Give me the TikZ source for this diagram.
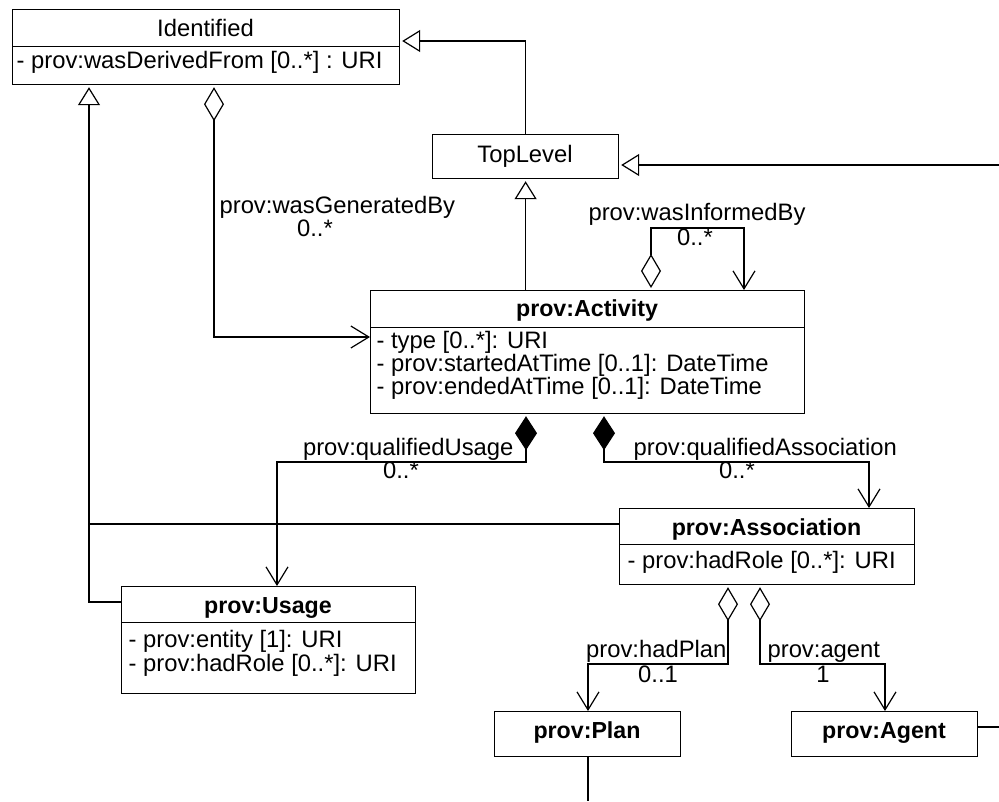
\documentclass[tikz,border=0pt]{standalone}
\usepackage{fontspec}
\setmainfont{Liberation Sans}
\usetikzlibrary{arrows.meta}
\begin{document}
\begin{tikzpicture}[x=1pt,y=-1pt,line width=1.2pt,
  classbox/.style={draw,rectangle,inner sep=0pt,anchor=north west,line width=1.2pt},
  divider/.style={line width=0.8pt},
  attr/.style={inner sep=0pt,anchor=base west,font=\fontsize{23.8}{24}\selectfont},
  ttl/.style={inner sep=0pt,anchor=base,font=\fontsize{23.8}{24}\selectfont},
  bttl/.style={inner sep=0pt,anchor=base,font=\fontsize{23.2}{24}\selectfont\bfseries},
  gen/.style={-{Triangle[open,length=18pt,width=22pt]},shorten >=2pt},
  aggto/.style={{Diamond[open,length=34pt,width=20pt]}-{Straight Barb[length=18pt,width=22pt]},shorten <=2pt},
  compto/.style={{Diamond[length=34pt,width=22pt]}-{Straight Barb[length=18pt,width=22pt]},shorten <=2pt},
]
\useasboundingbox (0,0) rectangle (999,801);

% ---------- classes ----------
\node[classbox,minimum width=387pt,minimum height=75pt] (ident) at (12,9) {};
\draw[divider] (ident.west |- 0,46) -- (ident.east |- 0,46);
\node[ttl] (identT) at (205.5,36) {Identified};
\node[attr] (identA) at (16,68) {- prov:wasDerivedFrom [0..*] : URI};

\node[classbox,minimum width=186pt,minimum height=44pt] (top) at (432,134) {};
\node[ttl] (topT) at (525,162) {TopLevel};

\node[classbox,minimum width=434pt,minimum height=123pt] (act) at (370,290) {};
\draw[divider] (act.west |- 0,327) -- (act.east |- 0,327);
\node[bttl] (actT) at (587,316) {prov:Activity};
\node[attr] (actA1) at (376,348) {- type [0..*]: URI};
\node[attr] (actA2) at (376,371) {- prov:startedAtTime [0..1]: DateTime};
\node[attr] (actA3) at (376,394) {- prov:endedAtTime [0..1]: DateTime};

\node[classbox,minimum width=295pt,minimum height=76pt] (assoc) at (619,508) {};
\draw[divider] (assoc.west |- 0,544) -- (assoc.east |- 0,544);
\node[bttl] (assocT) at (766.5,535) {prov:Association};
\node[attr] (assocA) at (627,568) {- prov:hadRole [0..*]: URI};

\node[classbox,minimum width=294pt,minimum height=107pt] (usage) at (121,586) {};
\draw[divider] (usage.west |- 0,622) -- (usage.east |- 0,622);
\node[bttl] (usageT) at (268,613) {prov:Usage};
\node[attr] (usageA1) at (128,647) {- prov:entity [1]: URI};
\node[attr] (usageA2) at (128,671) {- prov:hadRole [0..*]: URI};

\node[classbox,minimum width=186pt,minimum height=45pt] (plan) at (494,711) {};
\node[bttl] (planT) at (587,738) {prov:Plan};

\node[classbox,minimum width=186pt,minimum height=45pt] (agent) at (791,711) {};
\node[bttl] (agentT) at (884,738) {prov:Agent};

% ---------- free ends ----------
\coordinate (rightTop) at (999,165);
\coordinate (rightAgent) at (999,727);
\coordinate (planEnd) at (588,801);
\coordinate (gx) at (89,524);

% ---------- generalizations ----------
\draw[gen] (top.north) |- (ident.east |- 0,41);
\draw[gen] (top.south |- act.north) -- (top.south);
\draw[gen] (rightTop) -- (top.east |- rightTop);
\draw[gen] (usage.west |- 0,602) -| (ident.south -| gx);
\draw (assoc.west |- gx) -- (gx);

% ---------- associations ----------
\draw[aggto] (ident.south -| 214,0) |- (act.west |- 0,337);
\draw[aggto] (act.north -| 651,0) -- ++(0,-62) -| (act.north -| 744,0);
\draw[compto] (act.south -| 526,0) |- (277,462) -- (usage.north -| 277,0);
\draw[compto] (act.south -| 604,0) |- (869,462) -- (assoc.north -| 869,0);
\draw[aggto] (assoc.south -| 728,0) |- (588,664) -- (plan.north -| 588,0);
\draw[aggto] (assoc.south -| 760,0) |- (885,664) -- (agent.north -| 885,0);

\draw (plan.south -| planEnd) -- (planEnd);
\draw (agent.east |- rightAgent) -- (rightAgent);

% ---------- labels ----------
\node[attr] (lGen) at (219,213) {prov:wasGeneratedBy};
\node[ttl] (mGen) at (315,236) {0..*};
\node[ttl] (lInf) at (697,220) {prov:wasInformedBy};
\node[ttl] (mInf) at (695,245) {0..*};
\node[ttl,anchor=base east] (lUse) at (514,455) {prov:qualifiedUsage};
\node[ttl] (mUse) at (401,478) {0..*};
\node[attr] (lAss) at (633,455) {prov:qualifiedAssociation};
\node[ttl] (mAss) at (737,478) {0..*};
\node[ttl,anchor=base east] (lPlan) at (727,657) {prov:hadPlan};
\node[ttl] (mPlan) at (658,682) {0..1};
\node[attr] (lAg) at (767,657) {prov:agent};
\node[ttl] (mAg) at (823,682) {1};
\end{tikzpicture}
\end{document}
